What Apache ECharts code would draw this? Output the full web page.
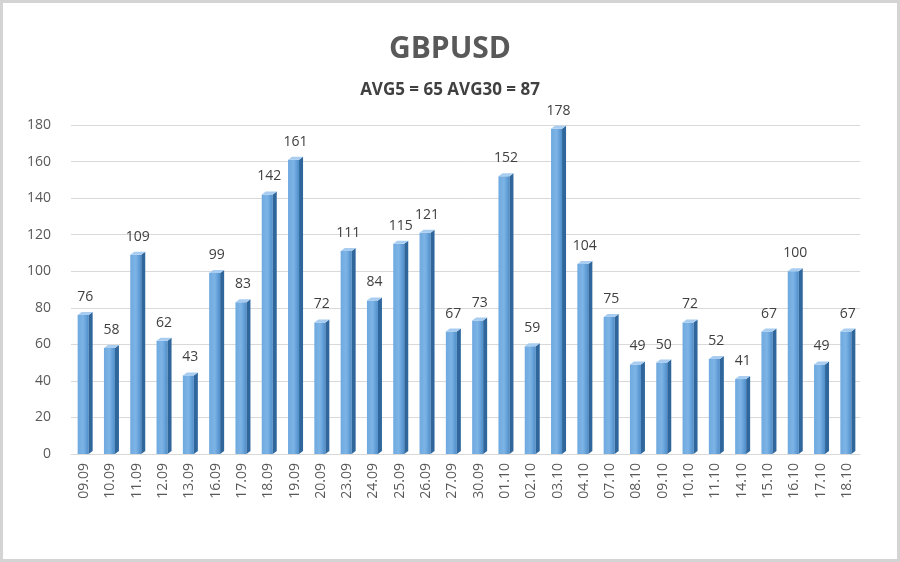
<!DOCTYPE html>
<html>
<head>
<meta charset="utf-8">
<script src="https://cdn.jsdelivr.net/npm/echarts@6/dist/echarts.min.js"></script>
<style>
  html, body { margin: 0; padding: 0; background: #fff; }
  #chart { width: 900px; height: 562px; }
</style>
</head>
<body>
<div id="chart"></div>
<script>
var days = ["09.09", "10.09", "11.09", "12.09", "13.09", "16.09", "17.09", "18.09", "19.09", "20.09",
  "23.09", "24.09", "25.09", "26.09", "27.09", "30.09", "01.10", "02.10", "03.10", "04.10",
  "07.10", "08.10", "09.10", "10.10", "11.10", "14.10", "15.10", "16.10", "17.10", "18.10"];
var ranges = [76, 58, 109, 62, 43, 99, 83, 142, 161, 72,
  111, 84, 115, 121, 67, 73, 152, 59, 178, 104,
  75, 49, 50, 72, 52, 41, 67, 100, 49, 67];
var yTicks = [0, 20, 40, 60, 80, 100, 120, 140, 160, 180];

var chart = echarts.init(document.getElementById("chart"));
var font = "'Open Sans', 'Noto Sans', sans-serif";

// fake 3D column: front face, dark side, light top
function drawColumn(params, api) {
  var base = api.coord([api.value(0), 0]);
  var top = api.coord([api.value(0), api.value(1)]);
  var w = 11, d = 4, dy = 3;
  var x = top[0] - w / 2 - 1;
  return {
    type: "group",
    children: [
      {
        type: "rect",
        shape: { x: x, y: top[1], width: w, height: base[1] - top[1] },
        style: {
          fill: new echarts.graphic.LinearGradient(0, 0, 1, 0, [
            { offset: 0, color: "#6fa9df" },
            { offset: 0.5, color: "#7db4e6" },
            { offset: 1, color: "#4f8ecb" }
          ])
        }
      },
      {
        type: "polygon",
        shape: { points: [[x + w, top[1]], [x + w + d, top[1] - dy], [x + w + d, base[1] - dy], [x + w, base[1]]] },
        style: { fill: "#2f679c" }
      },
      {
        type: "polygon",
        shape: { points: [[x, top[1]], [x + d, top[1] - dy], [x + w + d, top[1] - dy], [x + w, top[1]]] },
        style: { fill: "#a8cdf0" }
      },
      {
        type: "text",
        style: {
          text: String(api.value(1)),
          x: x + (w + d) / 2,
          y: top[1] - dy - 8,
          align: "center",
          verticalAlign: "bottom",
          fill: "#404040",
          font: "14px " + font
        }
      }
    ]
  };
}

var option = {
  backgroundColor: "#fff",
  animation: false,
  title: [
    {
      text: "GBPUSD",
      left: "center",
      top: 29,
      textStyle: { fontFamily: font, fontSize: 30, fontWeight: "bold", color: "#595959" }
    },
    {
      text: "AVG5 = 65 AVG30 = 87",
      left: "center",
      top: 77,
      textStyle: { fontFamily: font, fontSize: 17, fontWeight: "bold", color: "#404040" }
    }
  ],
  graphic: [
    {
      type: "rect",
      shape: { x: 1.5, y: 1.5, width: 897, height: 559 },
      style: { fill: "none", stroke: "#d4d4d4", lineWidth: 3 }
    }
  ],
  grid: { left: 71, right: 40, top: 125, bottom: 108 },
  xAxis: {
    type: "category",
    data: days,
    axisLine: { show: true, lineStyle: { color: "#d9d9d9" } },
    axisTick: { show: false },
    axisLabel: { rotate: 90, interval: 0, margin: 9, color: "#595959", fontSize: 14, fontFamily: font }
  },
  yAxis: {
    type: "value",
    min: yTicks[0],
    max: yTicks[yTicks.length - 1],
    interval: 20,
    axisLine: { show: false },
    axisTick: { show: false },
    axisLabel: { color: "#595959", fontSize: 14, fontFamily: font, margin: 20 },
    splitLine: { lineStyle: { color: "#d9d9d9", width: 1 } }
  },
  series: [
    {
      type: "custom",
      renderItem: drawColumn,
      encode: { x: 0, y: 1 },
      data: days.map(function (d, i) { return [i, ranges[i]]; })
    }
  ]
};
chart.setOption(option);
</script>
</body>
</html>
